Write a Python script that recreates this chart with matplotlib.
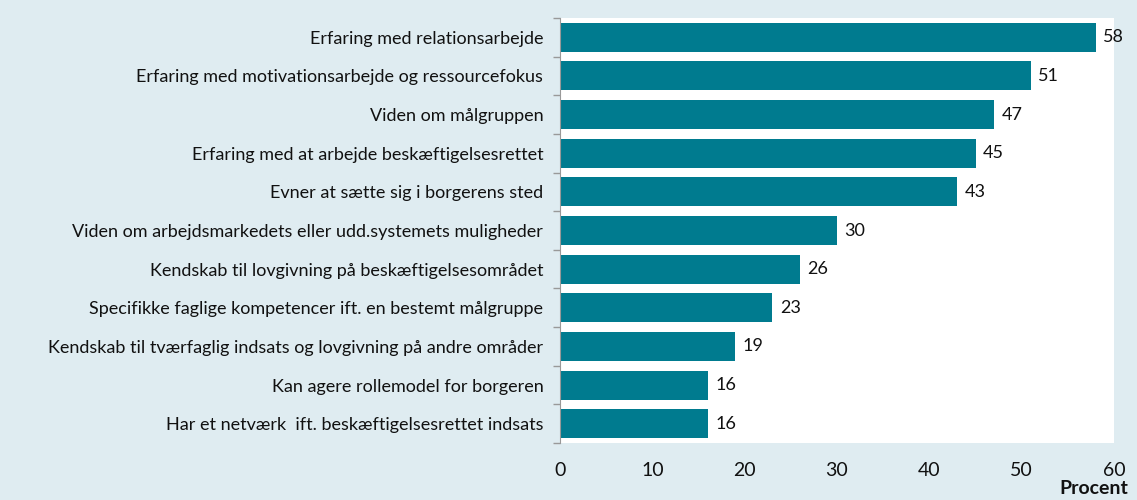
import numpy as np
import matplotlib.pyplot as plt

categories = [
    "Erfaring med relationsarbejde",
    "Erfaring med motivationsarbejde og ressourcefokus",
    "Viden om målgruppen",
    "Erfaring med at arbejde beskæftigelsesrettet",
    "Evner at sætte sig i borgerens sted",
    "Viden om arbejdsmarkedets eller udd.systemets muligheder",
    "Kendskab til lovgivning på beskæftigelsesområdet",
    "Specifikke faglige kompetencer ift. en bestemt målgruppe",
    "Kendskab til tværfaglig indsats og lovgivning på andre områder",
    "Kan agere rollemodel for borgeren",
    "Har et netværk  ift. beskæftigelsesrettet indsats",
]
values = [58, 51, 47, 45, 43, 30, 26, 23, 19, 16, 16]
xticks = [0, 10, 20, 30, 40, 50, 60]

bg = "#DFECF1"
bar_color = "#007B8F"
plt.rcParams["font.family"] = ["Lato", "DejaVu Sans"]

fig = plt.figure(figsize=(11.37, 5), dpi=100, facecolor=bg)
ax = fig.add_axes([560 / 1137, 1 - 443 / 500, (1114 - 560) / 1137, (443 - 18) / 500])
ax.set_facecolor("white")

y = np.arange(len(categories))
ax.barh(y, values, height=0.75, color=bar_color)
for yi, v in zip(y, values):
    ax.text(v + 0.8, yi, str(v), va="center", ha="left", fontsize=13, color="#111111")

ax.set_xlim(0, 60)
ax.set_ylim(len(categories) - 0.5, -0.5)
ax.set_yticks(y)
ax.set_yticklabels(categories, fontsize=13, color="#111111")
ax.tick_params(axis="y", length=0, pad=12)
ax.set_yticks(np.arange(len(categories) + 1) - 0.5, minor=True)
ax.tick_params(axis="y", which="minor", length=5, color="#999999", width=1)

ax.set_xticks(xticks)
ax.set_xticklabels([str(t) for t in xticks], fontsize=14, color="#111111")
ax.tick_params(axis="x", length=0, pad=14)

for s in ["top", "right", "bottom"]:
    ax.spines[s].set_visible(False)
ax.spines["left"].set_color("#999999")

fig.text(1128 / 1137, 1 - 489 / 500, "Procent", ha="right", va="center",
         fontsize=14, fontweight="bold", color="#111111")

fig.savefig("out.png", dpi=100, facecolor=bg)
